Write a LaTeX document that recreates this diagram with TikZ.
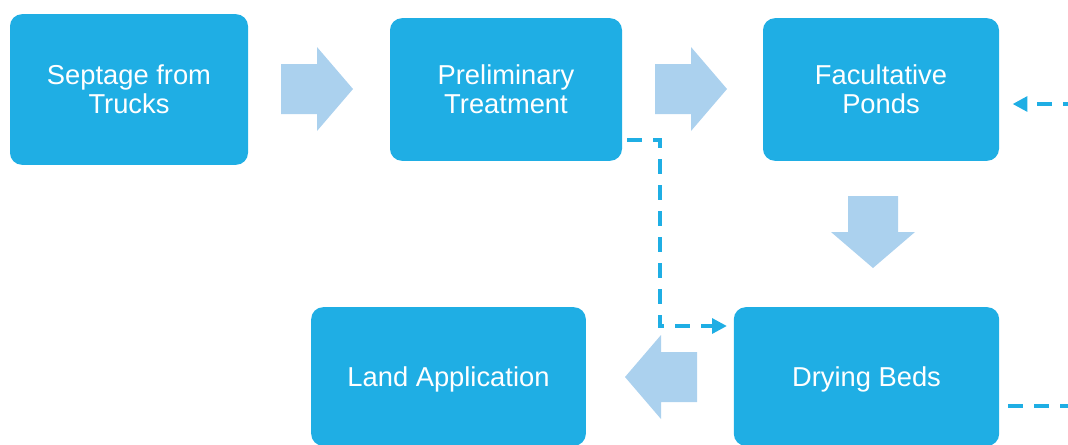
\documentclass[tikz,border=0pt]{standalone}
\usepackage{fontspec}
\setmainfont{Liberation Sans}
\usetikzlibrary{arrows.meta}
\definecolor{stageblue}{RGB}{31,174,228}
\definecolor{arrowblue}{RGB}{171,209,238}
\tikzset{
	stage/.style={fill=stageblue, rounded corners=9pt, text=white, align=center, inner sep=0pt,
		font=\fontsize{20.5}{22}\selectfont},
	flowdash/.style={stageblue, line width=2.6pt, dash pattern=on 11pt off 8.5pt,
		-{Triangle[length=11pt,width=11pt]}}
}
% wide arrow between two stages, #1 = base of the head, #2 = direction
\newcommand{\bigarrow}[2]{\fill[arrowblue,shift={#1},rotate=#2] (-36,-25) -- (0,-25) -- (0,-42) -- (36,0) -- (0,42) -- (0,25) -- (-36,25) -- cycle;}
\begin{document}
\begin{tikzpicture}[x=0.75pt,y=-0.75pt]
		\useasboundingbox (0,0) rectangle (1068,444);
		\clip (0,0) rectangle (1068,444);
		% stages
		\node[stage, minimum width=178.5pt, minimum height=113pt] (septage) at (129,89.5) {Septage from\\Trucks};
		\node[stage, minimum width=174pt, minimum height=107pt] (prelim) at (506,89.5) {Preliminary\\Treatment};
		\node[stage, minimum width=177pt, minimum height=107pt] (ponds) at (881,89.5) {Facultative\\Ponds};
		\node[stage, minimum width=206pt, minimum height=104pt] (land) at (448.5,376.5) {\raisebox{-2.25pt}[\height][\depth]{Land Application}};
		\node[stage, minimum width=199pt, minimum height=104pt] (beds) at (866.5,376.5) {\raisebox{-2.25pt}[\height][\depth]{Drying Beds}};
		% main flow
		\bigarrow{(317,89)}{0}
		\bigarrow{(691,89)}{0}
		\bigarrow{(873,232)}{-90}
		\bigarrow{(661,377)}{180}
		% bypass and return lines
		\coordinate (tap) at (575,140);
		\coordinate (bend) at (660,326);
		\draw[flowdash, shorten >=5pt] (tap) -| (bend) -- (beds.west |- bend);
		\coordinate (loopin) at (1008,406);
		\coordinate (loopout) at (1100,104);
		\draw[flowdash, shorten >=10pt] (loopin) -| (loopout) -- (ponds.east |- loopout);
	\end{tikzpicture}
\end{document}
